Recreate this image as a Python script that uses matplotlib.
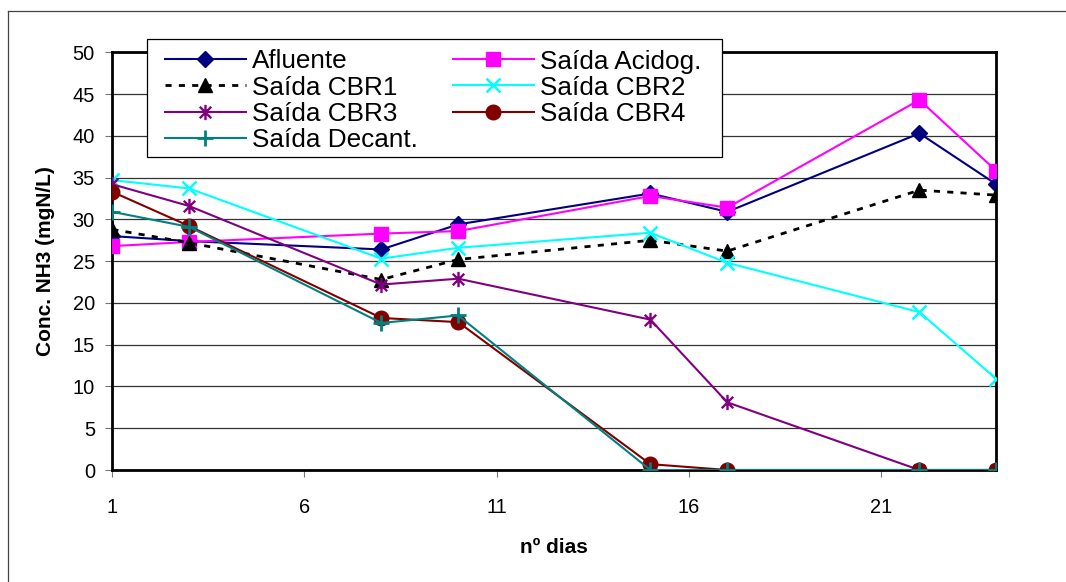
import matplotlib
matplotlib.use("Agg")
import matplotlib.pyplot as plt
from matplotlib.path import Path
from matplotlib.lines import Line2D
from matplotlib.patches import Rectangle

plt.rcParams["font.family"] = ["Liberation Sans", "DejaVu Sans"]

W, H = 1066, 582

# Sampling days
dias = [1, 3, 8, 10, 15, 17, 22, 24]

# NH3 concentration (mgN/L) per sampling point
afluente = [28.0, 27.4, 26.4, 29.4, 33.1, 30.9, 40.3, 34.2]
saida_acidog = [26.8, 27.3, 28.3, 28.6, 32.8, 31.4, 44.3, 35.8]
saida_cbr1 = [28.8, 27.2, 22.8, 25.2, 27.5, 26.2, 33.5, 32.9]
saida_cbr2 = [34.7, 33.7, 25.3, 26.6, 28.4, 24.8, 18.9, 10.9]
saida_cbr3 = [34.2, 31.6, 22.2, 22.9, 18.0, 8.1, 0.0, 0.0]
saida_cbr4 = [33.3, 29.2, 18.2, 17.7, 0.7, 0.0, 0.0, 0.0]
saida_decant = [30.9, 29.1, 17.6, 18.5, 0.0, 0.0, 0.0, 0.0]

x_ticks = [1, 6, 11, 16, 21]
y_ticks = list(range(0, 51, 5))

# Asterisk marker: vertical bar plus an X
star = Path(
    [(0, -1), (0, 1), (-0.75, -0.75), (0.75, 0.75), (-0.75, 0.75), (0.75, -0.75)],
    [Path.MOVETO, Path.LINETO, Path.MOVETO, Path.LINETO, Path.MOVETO, Path.LINETO],
)

fig = plt.figure(figsize=(W / 100, H / 100), dpi=100)
x0, x1, y_top, y_bot = 112.3, 996.3, 52.3, 470.0
ax = fig.add_axes([x0 / W, 1 - y_bot / H, (x1 - x0) / W, (y_bot - y_top) / H])

lw = 1.5
series = {}
series["Afluente"] = ax.plot(dias, afluente, color="#000080", lw=lw, marker="D",
                             ms=8.5, mec="#000080", mfc="#000080", zorder=3)[0]
series["Saída Acidog."] = ax.plot(dias, saida_acidog, color="#FF00FF", lw=lw, marker="s",
                                  ms=10, mec="#FF00FF", mfc="#FF00FF", zorder=3)[0]
series["Saída CBR1"] = ax.plot(dias, saida_cbr1, color="black", lw=2.0, ls=(0, (2.2, 2.6)),
                               marker="^", ms=10, mec="black", mfc="black", zorder=3)[0]
series["Saída CBR2"] = ax.plot(dias, saida_cbr2, color="#00FFFF", lw=lw, marker="x",
                               ms=10, mew=1.8, mec="#00FFFF", zorder=3)[0]
series["Saída CBR3"] = ax.plot(dias, saida_cbr3, color="#800080", lw=lw, marker=star,
                               ms=11, mew=1.7, mec="#800080", zorder=3)[0]
series["Saída CBR4"] = ax.plot(dias, saida_cbr4, color="#800000", lw=lw, marker="o",
                               ms=10.5, mec="#800000", mfc="#800000", zorder=3)[0]
series["Saída Decant."] = ax.plot(dias, saida_decant, color="#008080", lw=lw, marker="+",
                                  ms=11, mew=2.0, mec="#008080", zorder=3)[0]

ax.set_xlim(1, 24)
ax.set_ylim(0, 50)
ax.set_xticks(x_ticks)
ax.set_yticks(y_ticks)
ax.yaxis.grid(True, color="#333333", lw=0.9)
ax.set_axisbelow(True)

for sp in ax.spines.values():
    sp.set_linewidth(2.0)
    sp.set_color("black")

ax.tick_params(axis="y", direction="out", length=5, width=0.8, color="#777777",
               labelsize=14.4, pad=7.5)
ax.tick_params(axis="x", direction="out", length=5, width=0.8, color="#777777",
               labelsize=14.4, pad=15)

ax.set_xlabel("nº dias", fontsize=15, fontweight="bold")
ax.xaxis.set_label_coords(0.5, -0.162)
ax.set_ylabel("Conc. NH3 (mgN/L)", fontsize=15, fontweight="bold")
ax.yaxis.set_label_coords((55.5 - x0) / (x1 - x0), 0.5)

# Legend: two columns inside a plain rectangular frame
order = ["Afluente", "Saída CBR1", "Saída CBR3", "Saída Decant.",
         "Saída Acidog.", "Saída CBR2", "Saída CBR4"]
fs = 18.8
leg = fig.legend([series[k] for k in order], order, ncol=2, loc="upper left",
                 bbox_to_anchor=(165 / W, 1 - 49.5 / H), borderaxespad=0,
                 fontsize=fs, frameon=False, handlelength=3.1, handletextpad=0.23,
                 columnspacing=1.34, labelspacing=0.08, borderpad=0.0)
leg.set_zorder(5)
fig.add_artist(Rectangle((146.7 / W, 1 - 156.7 / H), (721.8 - 146.7) / W,
                         (156.7 - 39.3) / H, transform=fig.transFigure,
                         facecolor="white", edgecolor="black", lw=0.9, zorder=4))

# Chart area border (top and left edges)
fig.add_artist(Line2D([8.3 / W, 8.3 / W], [0, 1 - 10.7 / H],
                      transform=fig.transFigure, color="#444444", lw=0.9))
fig.add_artist(Line2D([8.3 / W, 1], [1 - 10.7 / H, 1 - 10.7 / H],
                      transform=fig.transFigure, color="#444444", lw=0.9))

fig.savefig("out.png", dpi=100)
